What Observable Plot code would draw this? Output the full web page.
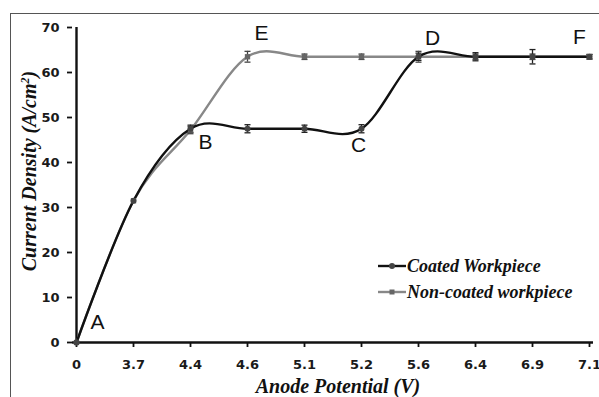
<!DOCTYPE html>
<html><head><meta charset="utf-8">
<script src="https://cdn.jsdelivr.net/npm/d3@7"></script>
<script src="https://cdn.jsdelivr.net/npm/@observablehq/plot@0.6"></script>
<style>
body{margin:0;background:#fff;}
#wrap{position:relative;width:599px;height:397px;overflow:hidden;background:#fff;}
#frame{position:absolute;left:10px;top:13px;width:620px;height:420px;border:1px solid #555;box-sizing:border-box;}
#chart{position:absolute;left:0;top:0;}
.serif{font-family:"Liberation Serif","Times New Roman",serif;font-weight:bold;font-style:italic;color:#111;white-space:nowrap;position:absolute;line-height:1;}
#ylab{font-size:20px;left:29px;top:171px;transform:translate(-50%,-50%) rotate(-90deg);}
#xlab{font-size:20px;left:338px;top:386px;transform:translate(-50%,-50%);}
.leg{font-size:18px;display:flex;align-items:center;}
</style></head>
<body>
<div id="wrap">
  <div id="frame"></div>
  <div id="chart"></div>
  <div id="ylab" class="serif">Current Density (A/cm<sup style="font-size:12px">2</sup>)</div>
  <div id="xlab" class="serif">Anode Potential (V)</div>
  <div class="serif leg" style="left:377px;top:257px;">
    <svg width="30" height="10"><line x1="1" y1="5" x2="29" y2="5" stroke="#111" stroke-width="2.4"/><circle cx="15" cy="5" r="3" fill="#444"/></svg><span>Coated Workpiece</span></div>
  <div class="serif leg" style="left:377px;top:283px;">
    <svg width="30" height="10"><line x1="1" y1="5" x2="29" y2="5" stroke="#888" stroke-width="2.4"/><rect x="12.5" y="2.5" width="5" height="5" fill="#666"/></svg><span>Non-coated workpiece</span></div>
</div>
<script>
const potentials = ["0","3.7","4.4","4.6","5.1","5.2","5.6","6.4","6.9","7.1"];
const coated =      [0, 31.5, 47.5, 47.5, 47.5, 47.5, 63.5, 63.5, 63.5, 63.5];
const nonCoated =   [0, 31.5, 47.2, 63.5, 63.5, 63.5, 63.5, 63.5, 63.5, 63.5];
const coatedErr =   [0, 0, 0.8, 0.9, 0.8, 0.9, 0.8, 0.9, 1.6, 0.5];
const nonCoatedErr =[0, 0, 0.8, 1.2, 0.6, 0.6, 1.2, 0.6, 0.6, 0.5];
const yTicks = [0,10,20,30,40,50,60,70];
const letters = ["A","B","C","D","E","F"];
const letterX = ["0","4.4","5.2","5.6","4.6","7.1"];
const letterY = [4.4, 44.4, 43.8, 67.5, 68.7, 67.8];
const letterDx = [21, 15, -3, 14, 14, -10];

const rowsC = potentials.map((p,i)=>({x:p, y:coated[i], e:coatedErr[i]}));
const rowsN = potentials.map((p,i)=>({x:p, y:nonCoated[i], e:nonCoatedErr[i]}));
const cap = {draw(ctx,size){const r=Math.sqrt(size/Math.PI); ctx.moveTo(-r,0); ctx.lineTo(r,0);}};

function errMarks(rows, color){
  const er = rows.filter(d=>d.e>0);
  return [
    Plot.ruleX(er,{x:"x", y1:d=>d.y-d.e, y2:d=>d.y+d.e, stroke:color, strokeWidth:1.3}),
    Plot.dot(er,{x:"x", y:d=>d.y+d.e, symbol:cap, r:3, stroke:color, strokeWidth:1.3, fill:"none"}),
    Plot.dot(er,{x:"x", y:d=>d.y-d.e, symbol:cap, r:3, stroke:color, strokeWidth:1.3, fill:"none"})
  ];
}

const chart = Plot.plot({
  width:599, height:397,
  marginLeft:72, marginRight:6, marginTop:27, marginBottom:55,
  style:{background:"transparent", overflow:"visible"},
  x:{type:"point", domain:potentials, padding:0, range:[72,593]},
  y:{domain:[0,70], range:[342,27]},
  marks:[
    Plot.axisY({ticks:yTicks, tickSize:5, tickPadding:8, label:null, fontSize:13, fontWeight:"bold", fontFamily:"Verdana, DejaVu Sans", fill:"#1a1a1a", stroke:"#111", strokeWidth:1.8}),
    Plot.axisX({tickSize:5, tickPadding:12, label:null, fontSize:13, fontWeight:"bold", fontFamily:"Verdana, DejaVu Sans", fill:"#1a1a1a", stroke:"#111", strokeWidth:1.8}),
    Plot.ruleY([0],{stroke:"#111", strokeWidth:2.4}),
    Plot.ruleX(["0"],{stroke:"#111", strokeWidth:2.4}),
    Plot.line(rowsN,{x:"x", y:"y", curve:"cardinal", stroke:"#888", strokeWidth:2.4}),
    Plot.line(rowsC,{x:"x", y:"y", curve:"cardinal", stroke:"#111", strokeWidth:2.4}),
    ...errMarks(rowsN,"#444"),
    ...errMarks(rowsC,"#222"),
    Plot.dot(rowsN,{x:"x", y:"y", symbol:"square", r:3, fill:"#666"}),
    Plot.dot(rowsC,{x:"x", y:"y", r:3, fill:"#444"}),
    ...letters.map((t,i)=>Plot.text([t],{x:()=>letterX[i], y:()=>letterY[i], text:d=>d, dx:letterDx[i], fontSize:21, fontFamily:"Liberation Sans", fill:"#111"}))
  ]
});
document.getElementById("chart").appendChild(chart);
</script>
</body></html>
